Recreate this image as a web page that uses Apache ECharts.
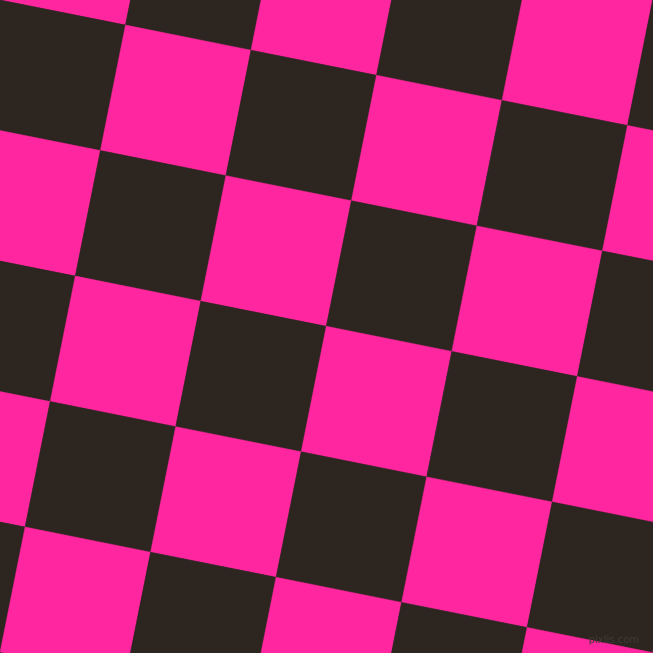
<!DOCTYPE html>
<html>
<head>
<meta charset="utf-8">
<script src="https://cdn.jsdelivr.net/npm/echarts@6/dist/echarts.min.js"></script>
<style>
html, body { margin: 0; padding: 0; background: #2d2620; }
#chart { width: 653px; height: 653px; }
</style>
</head>
<body>
<div id="chart"></div>
<script>
// lattice columns / rows of the tilted board
var colIndex = [-1, 0, 1, 2, 3, 4, 5, 6];
var rowIndex = [-2, -1, 0, 1, 2, 3, 4, 5, 6];
// 0 = dark square, 1 = pink square
var squareColors = ['#2d2620', '#ff269f'];
var watermark = 'pixlis.com';

// one step along a row / down a column, in chart units
var stepAcross = [125.5, 25.1];
var stepDown = [-25.1, 125.5];

function corner(i, j) {
    return [i * stepAcross[0] + j * stepDown[0], i * stepAcross[1] + j * stepDown[1]];
}

var cells = [];
colIndex.forEach(function (i) {
    rowIndex.forEach(function (j) {
        cells.push([i, j, Math.abs(i + j) % 2]);
    });
});

var chart = echarts.init(document.getElementById('chart'));
var option = {
    backgroundColor: '#2d2620',
    animation: false,
    grid: {left: 0, right: 0, top: 0, bottom: 0},
    xAxis: {type: 'value', min: 0, max: 653, show: false},
    yAxis: {type: 'value', min: 0, max: 653, inverse: true, show: false},
    graphic: [{
        type: 'text',
        right: 14,
        bottom: 8,
        z: 100,
        style: {text: watermark, fill: '#423a35', font: '10px "DejaVu Sans"'}
    }],
    series: [{
        type: 'custom',
        clip: true,
        data: cells,
        renderItem: function (params, api) {
            var i = api.value(0), j = api.value(1);
            var pts = [corner(i, j), corner(i + 1, j), corner(i + 1, j + 1), corner(i, j + 1)].map(function (p) {
                return api.coord(p);
            });
            var c = squareColors[api.value(2)];
            return {
                type: 'polygon',
                shape: {points: pts},
                style: {fill: c, stroke: c, lineWidth: 0.5}
            };
        }
    }]
};
chart.setOption(option);
</script>
</body>
</html>
